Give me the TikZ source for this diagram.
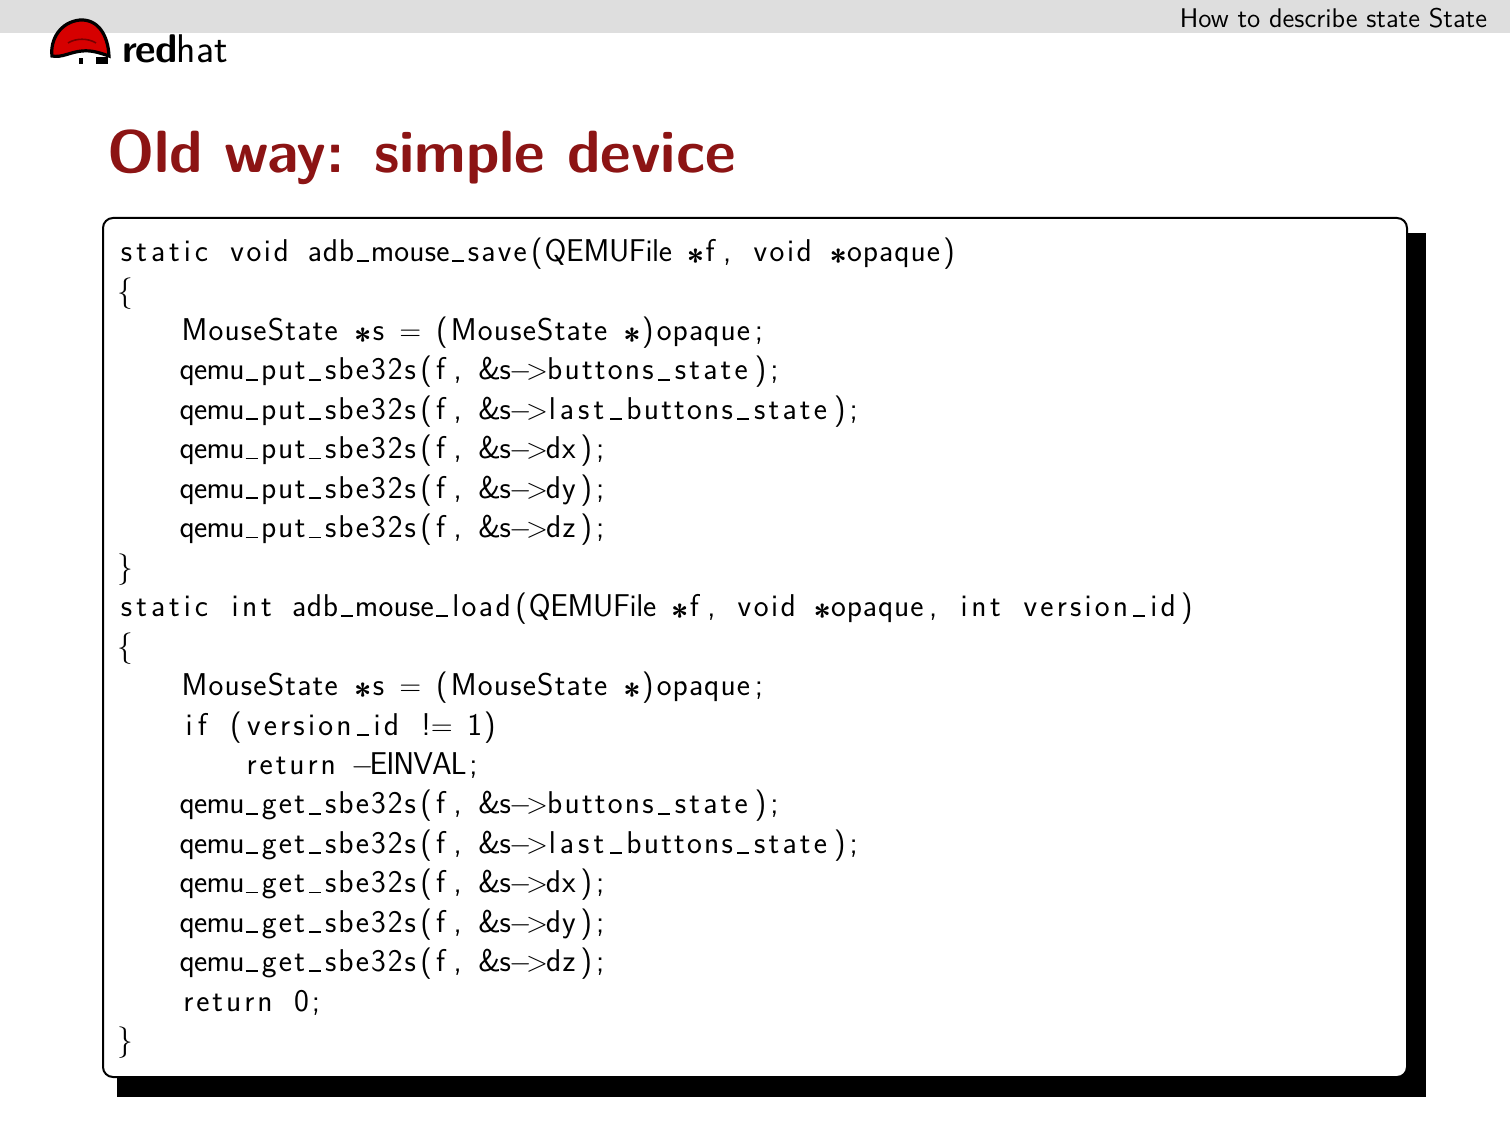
\documentclass[tikz,border=0pt]{standalone}
\usepackage{listings}
\definecolor{headgray}{RGB}{222,222,222}
\definecolor{titlered}{RGB}{140,20,20}
\definecolor{hatred}{RGB}{214,0,0}
\newcommand{\heavyast}{\raisebox{-0.34em}{\bfseries *}}
\lstset{
  basicstyle=\fontsize{15.75pt}{19.725pt}\selectfont\sffamily,
  columns=fixed,
  basewidth=7.925pt,
  aboveskip=0pt,
  belowskip=0pt,
  xleftmargin=0pt,
  lineskip=0pt,
  literate={*}{{\heavyast}}1 {-}{{$-$}}1 {>}{{$>$}}1 {=}{{$=$}}1
           {_}{{\rule[-0.02em]{0.38em}{0.06em}}}1
}
\tikzset{
  codebox/.style={fill=white, draw=black, line width=1pt, rounded corners=5pt},
  shadowbox/.style={fill=black},
  plain/.style={inner sep=0pt, outer sep=0pt}
}
\begin{document}
\begin{tikzpicture}[x=0.5pt,y=-0.5pt]
\useasboundingbox (0,0) rectangle (1510,1133);
\fill[white] (0,0) rectangle (1510,1133);
% header bar
\fill[headgray] (0,0) rectangle (1510,33);
\node[plain, anchor=base east] (hdr) at (1487,28)
  {\fontsize{13.5pt}{16pt}\selectfont\sffamily How to describe state State};
% red hat logo
\draw[fill=hatred, draw=black, line width=1.6pt]
  (52,56) .. controls (50,40) and (60,22) .. (80,20)
  .. controls (98,19) and (108,35) .. (109,56)
  .. controls (100,53) and (92,50) .. (82,51)
  .. controls (70,52) and (62,58) .. (52,56) -- cycle;
\draw[black!45!hatred, line width=0.8pt] (68,43) .. controls (76,38) and (88,38) .. (96,43);
\fill[black] (79,58) rectangle (83,64);
\fill[black] (96,57) rectangle (108,64);
\node[plain, anchor=base west] (logotext) at (122,63)
  {\fontsize{20pt}{22pt}\selectfont\sffamily{\bfseries r\kern-0.5pt e\kern-0.5pt d}\kern-0.5pt hat};
% title
\node[plain, anchor=base west, text=titlered] (title) at (107,173)
  {\fontsize{29.8pt}{36pt}\selectfont\sffamily\bfseries Old way: simple device};
% code block
\fill[shadowbox] (117,233) rectangle (1426,1097);
\draw[codebox] (103,218) rectangle (1407,1077);
\node[plain, anchor=north west] (code) at (117,234) {\begin{minipage}{640pt}
\begin{lstlisting}
static void adb_mouse_save(QEMUFile *f, void *opaque)
{
    MouseState *s = (MouseState *)opaque;
    qemu_put_sbe32s(f, &s->buttons_state);
    qemu_put_sbe32s(f, &s->last_buttons_state);
    qemu_put_sbe32s(f, &s->dx);
    qemu_put_sbe32s(f, &s->dy);
    qemu_put_sbe32s(f, &s->dz);
}
static int adb_mouse_load(QEMUFile *f, void *opaque, int version_id)
{
    MouseState *s = (MouseState *)opaque;
    if (version_id != 1)
        return -EINVAL;
    qemu_get_sbe32s(f, &s->buttons_state);
    qemu_get_sbe32s(f, &s->last_buttons_state);
    qemu_get_sbe32s(f, &s->dx);
    qemu_get_sbe32s(f, &s->dy);
    qemu_get_sbe32s(f, &s->dz);
    return 0;
}
\end{lstlisting}
\end{minipage}};
\end{tikzpicture}
\end{document}
